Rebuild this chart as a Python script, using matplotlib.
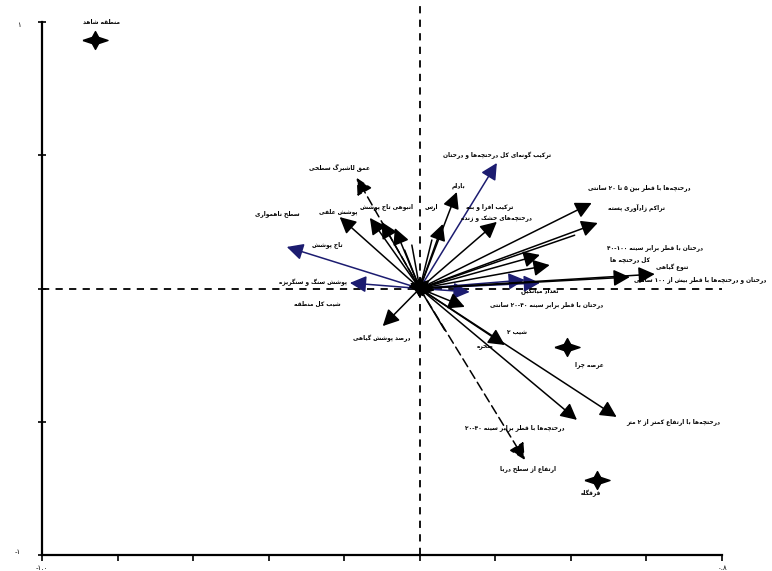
import re
import matplotlib
matplotlib.use("Agg")
import matplotlib.pyplot as plt
from matplotlib.path import Path

# Sites (samples) in the ordination space
site_names = ["منطقه شاهد", "عرصه چرا", "قرقگاه"]
site_x = [-0.860, 0.389, 0.468]
site_y = [0.932, -0.220, -0.719]

# Environmental / structural variables (arrow tips)
var_x = [-0.352, 0.204, -0.185, 0.318, 0.132, 0.278,
         -0.212, -0.167, -0.132, -0.101, -0.066, 0.098, 0.061, 0.204,
         0.455, 0.471, 0.410, 0.318, 0.344, 0.622, 0.556,
         0.119, 0.066, 0.278, 0.225, 0.416, 0.521, -0.098,
         -0.040, -0.021, 0.032, 0.026, -0.026, 0.013, 0.040]
var_y = [0.156, 0.471, 0.021, 0.021, -0.013, 0.032,
         0.268, 0.415, 0.265, 0.250, 0.227, 0.362, 0.242, 0.250,
         0.321, 0.246, 0.200, 0.126, 0.088, 0.054, 0.043,
         -0.069, -0.156, -0.643, -0.212, -0.493, -0.482, -0.141,
         0.144, 0.163, 0.182, 0.032, 0.021, -0.024, -0.006]

# Variable labels
tag_text = ["سطح ناهمواری", "پوشش علفی", "عمق لاشبرگ سطحی", "انبوهی تاج پوشش",
            "تاج پوشش", "پوشش سنگ و سنگریزه", "شیب کل منطقه", "درصد پوشش گیاهی",
            "ترکیب گونه‌ای کل درختچه‌ها و درختان", "بادام", "ارس",
            "ترکیب افرا و بنه", "درختچه‌های خشک و زنده",
            "درختچه‌ها با قطر بین ۵ تا ۲۰ سانتی", "تراکم زادآوری پسته",
            "درختان با قطر برابر سینه ۴۰-۱۰۰", "کل درختچه ها", "تنوع گیاهی",
            "درختان و درختچه‌ها با قطر بیش از ۱۰۰ سانتی", "تعداد میانگین",
            "درختان با قطر برابر سینه ۲۰-۴۰ سانتی", "شیب ۲", "صخره",
            "درختچه‌ها با قطر برابر سینه ۲۰-۴۰", "درختچه‌ها با ارتفاع کمتر از ۲ متر",
            "ارتفاع از سطح دریا"]
tag_x = [-0.376, -0.217, -0.212, -0.088, -0.246, -0.283, -0.270, -0.100,
         0.204, 0.103, 0.030, 0.185, 0.204, 0.582, 0.574, 0.622, 0.556, 0.667,
         0.742, 0.318, 0.336, 0.257, 0.172, 0.251, 0.670, 0.286]
tag_y = [0.283, 0.287, 0.452, 0.306, 0.163, 0.024, -0.058, -0.186,
         0.501, 0.385, 0.306, 0.306, 0.265, 0.377, 0.306, 0.152, 0.107, 0.081,
         0.032, -0.009, -0.062, -0.163, -0.223, -0.523, -0.501, -0.674]

x_ticks = [-1.0, -0.8, -0.6, -0.4, -0.2, 0.0, 0.2, 0.4, 0.6, 0.8]
x_labels = ["-۱.۰", "", "", "", "", "", "", "", "", "۰.۸"]
y_ticks = [-1.0, -0.5, 0.0, 0.5, 1.0]
y_labels = ["-۱", "", "", "", "۱"]

# arrow styling: navy arrows, arrows without heads, dashed arrows
NAVY = "#1c1c70"
navy_idx = {0, 1, 2, 3, 4, 5}
nohead_idx = {16, 22, 28, 29, 30}
dashed_idx = {7, 23}

# --- minimal Persian shaping (matplotlib draws no joined forms / RTL) ---
DUAL = {'ب': 0xFE8F, 'ت': 0xFE95, 'ث': 0xFE99, 'ج': 0xFE9D, 'ح': 0xFEA1, 'خ': 0xFEA5,
        'س': 0xFEB1, 'ش': 0xFEB5, 'ص': 0xFEB9, 'ض': 0xFEBD, 'ط': 0xFEC1, 'ظ': 0xFEC5,
        'ع': 0xFEC9, 'غ': 0xFECD, 'ف': 0xFED1, 'ق': 0xFED5, 'ل': 0xFEDD, 'م': 0xFEE1,
        'ن': 0xFEE5, 'ه': 0xFEE9, 'ک': 0xFB8E, 'ك': 0xFED9, 'گ': 0xFB92, 'پ': 0xFB56,
        'چ': 0xFB7A, 'ی': 0xFBFC, 'ي': 0xFEF1, 'ئ': 0xFE89}
RIGHT = {'ا': 0xFE8D, 'آ': 0xFE81, 'أ': 0xFE83, 'د': 0xFEA9, 'ذ': 0xFEAB, 'ر': 0xFEAD,
         'ز': 0xFEAF, 'ژ': 0xFB8A, 'و': 0xFEED, 'ة': 0xFE93}


def fa(text):
    out = []
    for i, ch in enumerate(text):
        prev = text[i - 1] if i > 0 else ''
        nxt = text[i + 1] if i + 1 < len(text) else ''
        if ch in RIGHT:
            out.append(chr(RIGHT[ch] + (1 if prev in DUAL else 0)))
        elif ch in DUAL:
            jp = prev in DUAL
            jn = nxt in DUAL or nxt in RIGHT
            off = 3 if (jp and jn) else 1 if jp else 2 if jn else 0
            out.append(chr(DUAL[ch] + off))
        elif ch == '\u200c':
            continue
        else:
            out.append(ch)
    vis = ''.join(out)[::-1]
    return re.sub(r'[0-9۰-۹]+(?:[-.][0-9۰-۹]+)*', lambda m: m.group(0)[::-1], vis)


plt.rcParams['font.family'] = ['DejaVu Sans']

fig = plt.figure(figsize=(7.72, 5.71), dpi=100)
ax = fig.add_axes([42 / 772, 16 / 571, 680 / 772, 533 / 571])
ax.set_xlim(-1.0, 0.8)
ax.set_ylim(-1.0, 1.0)

for side in ["top", "right"]:
    ax.spines[side].set_visible(False)
for side in ["left", "bottom"]:
    ax.spines[side].set_linewidth(1.6)

ax.set_xticks(x_ticks)
ax.set_xticklabels(x_labels, fontsize=5)
ax.set_yticks(y_ticks)
ax.set_yticklabels(y_labels, fontsize=5)
ax.get_yticklabels()[0].set_va("bottom")
ax.get_yticklabels()[-1].set_va("top")
ax.tick_params(axis="x", direction="out", length=4, width=1.2, pad=3)
ax.tick_params(axis="y", direction="inout", length=6, width=1.2, pad=12)

# dashed zero lines
ax.plot([0, 0], [-1.0, 1.065], ls=(0, (4, 3.5)), color="black", lw=1.3, clip_on=False)
ax.plot([-1.0, 0.8], [0, 0], ls=(0, (4, 3.5)), color="black", lw=1.3)

# variable arrows
for i, (vx, vy) in enumerate(zip(var_x, var_y)):
    color = NAVY if i in navy_idx else "black"
    style = "-" if i in nohead_idx else "-|>,head_length=0.55,head_width=0.28"
    ls = (0, (6, 3)) if i in dashed_idx else "-"
    ax.annotate("", xy=(vx, vy), xytext=(0, 0),
                arrowprops=dict(arrowstyle=style, color=color, lw=1.1,
                                mutation_scale=18, shrinkA=0, shrinkB=0,
                                linestyle=ls))

for t, tx, ty in zip(tag_text, tag_x, tag_y):
    ax.text(tx, ty, fa(t), fontsize=4.2, fontweight="bold", ha="center",
            va="center", color="black", clip_on=False)

# sites: four-pointed star markers with a solid centre
star = Path([(-1.4, 0), (-0.35, 0.35), (0, 1), (0.35, 0.35), (1.4, 0),
             (0.35, -0.35), (0, -1), (-0.35, -0.35), (-1.4, 0)])
ax.plot(site_x, site_y, ls="none", marker=star, ms=18, color="black",
        clip_on=False, zorder=5)
ax.plot(site_x, site_y, ls="none", marker="o", ms=6, color="black",
        clip_on=False, zorder=5)
site_tag_x = [-0.842, 0.450, 0.453]
site_tag_y = [1.0, -0.287, -0.767]
for name, sx, sy in zip(site_names, site_tag_x, site_tag_y):
    ax.text(sx, sy, fa(name), fontsize=4.2, fontweight="bold", ha="center",
            va="center", clip_on=False)

fig.savefig("out.png", dpi=100)
